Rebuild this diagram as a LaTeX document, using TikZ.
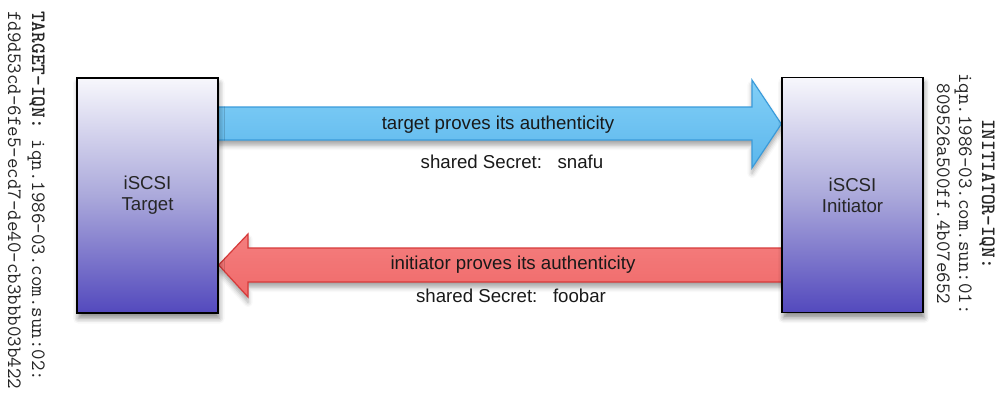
\documentclass[tikz,border=0pt]{standalone}
\usepackage{fontspec}
\setmainfont{Liberation Sans}
\usetikzlibrary{shadows.blur,calc}
\pgfdeclarelayer{background}
\pgfsetlayers{background,main}

\definecolor{boxtop}{HTML}{F7F7FC}
\definecolor{boxmid}{HTML}{ABA9DB}
\definecolor{boxbot}{HTML}{5349BD}
\definecolor{bluetop}{HTML}{82CFF7}
\definecolor{bluebot}{HTML}{5CB7EC}
\definecolor{blueedge}{HTML}{3A9BDA}
\definecolor{redtop}{HTML}{F47E7E}
\definecolor{redbot}{HTML}{F06A6A}
\definecolor{rededge}{HTML}{D63A3A}

\tikzset{
  hostbox/.style={draw=black, line width=1pt, inner sep=0pt,
    minimum width=105.75pt, minimum height=176.25pt,
    top color=boxtop, bottom color=boxbot, middle color=boxmid,
    align=center, text=black!85, font=\fontsize{14}{15.5}\selectfont,
    blur shadow={shadow xshift=1pt, shadow yshift=-4pt,
      shadow blur radius=4pt, shadow opacity=45}},
  flowshadow/.style={blur shadow={shadow xshift=0pt, shadow yshift=-4pt,
      shadow blur radius=3.5pt, shadow opacity=35}},
  bluearrow/.style={draw=blueedge, line width=0.9pt, line join=miter,
    top color=bluetop, bottom color=bluebot, flowshadow},
  redarrow/.style={draw=rededge, line width=0.9pt, line join=miter,
    top color=redtop, bottom color=redbot, flowshadow},
  flowlabel/.style={inner sep=0pt, text=black!90, font=\fontsize{14}{16}\selectfont},
  iqn/.style={inner sep=0pt, rotate=-90, text=black!85,
    font=\ttfamily\fontsize{15.3}{18}\selectfont}
}

\begin{document}
\begin{tikzpicture}[x=0.75pt, y=-0.75pt]
  \useasboundingbox (0,0) rectangle (998,410);

  % the two iSCSI end points
  \node[hostbox] (tgt) at (147.5,195.5) {iSCSI\\Target};
  \node[hostbox] (ini) at (852.5,195) {iSCSI\\Initiator};

  % flow arrows, kept underneath the boxes
  \begin{pgfonlayer}{background}
    \path[bluearrow]
      ($(tgt.east |- 0,107)+(-10,0)$) -- (752,107) -- (752,80) -- (ini.west |- 0,124)
      -- (752,168) -- (752,140) -- ($(tgt.east |- 0,140)+(-10,0)$) -- cycle;
    \path[redarrow]
      ($(ini.west |- 0,248)+(10,0)$) -- (248,248) -- (248,234) -- (tgt.east |- 0,265)
      -- (248,297) -- (248,282) -- ($(ini.west |- 0,282)+(10,0)$) -- cycle;
  \end{pgfonlayer}

  % labels on and below the arrows
  \node[flowlabel] (l1) at (498,125) {target proves its authenticity};
  \node[flowlabel] (l2) at (512,162) {shared Secret:\ \ \ snafu};
  \node[flowlabel] (l3) at (513,265) {initiator proves its authenticity};
  \node[flowlabel] (l4) at (511,296) {shared Secret:\ \ \ foobar};

  % target IQN, reading downwards along the left edge
  \node[iqn, anchor=base west] (tq1) at (32,11) {\textbf{TARGET-IQN:} iqn.1986-03.com.sun:02:};
  \node[iqn, anchor=base west] (tq2) at (8,11) {fd9d53cd-6fe5-ecd7-de40-cb3bbb03b422};

  % initiator IQN, reading downwards along the right edge
  \node[iqn, anchor=base] (iq1) at (982,194) {\textbf{INITIATOR-IQN:}};
  \node[iqn, anchor=base] (iq2) at (959,194) {iqn.1986-03.com.sun:01:};
  \node[iqn, anchor=base] (iq3) at (937,194) {809526a500ff.4b07e652};
\end{tikzpicture}
\end{document}
